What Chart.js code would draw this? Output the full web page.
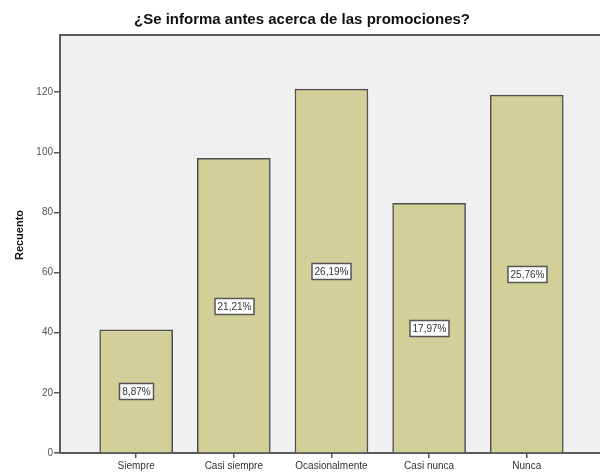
<!DOCTYPE html>
<html>
<head>
<meta charset="utf-8">
<script src="https://cdn.jsdelivr.net/npm/chart.js@4/dist/chart.umd.min.js"></script>
<style>
  html, body { margin: 0; padding: 0; background: #ffffff; }
  #wrap { width: 600px; height: 472px; position: relative; }
</style>
</head>
<body>
<div id="wrap"><canvas id="chart" width="600" height="472"></canvas></div>
<script>
// Survey answers and counts
const categories = ["Siempre", "Casi siempre", "Ocasionalmente", "Casi nunca", "Nunca"]
const counts = [41, 98, 121, 83, 119]
const yTicks = [0, 20, 40, 60, 80, 100, 120]
const titleText = "¿Se informa antes acerca de las promociones?"
const yTitle = "Recuento"

const total = counts.reduce((a, b) => a + b, 0)

function formatPercent(value) {
  return ((value / total) * 100).toFixed(2).replace(".", ",") + "%"
}

// plot background, frame, chart title and axis title
const framePlugin = {
  id: "frame",
  beforeDraw(chart) {
    const { ctx, chartArea } = chart
    ctx.save()
    ctx.fillStyle = "#f0f0f0"
    ctx.fillRect(chartArea.left, chartArea.top, chartArea.right - chartArea.left, chartArea.bottom - chartArea.top)
    ctx.restore()
  },
  afterDraw(chart) {
    const { ctx, chartArea } = chart
    ctx.save()
    ctx.strokeStyle = "#5a5a5a"
    ctx.lineWidth = 2
    ctx.beginPath()
    ctx.moveTo(chartArea.left, chartArea.bottom)
    ctx.lineTo(chartArea.left, chartArea.top)
    ctx.lineTo(chartArea.right + 5, chartArea.top)
    ctx.stroke()

    ctx.fillStyle = "#111111"
    ctx.font = "bold 15px 'Liberation Sans', Arial, sans-serif"
    ctx.textAlign = "center"
    ctx.textBaseline = "middle"
    ctx.fillText(titleText, 302, 20)

    ctx.translate(20, 235)
    ctx.rotate(-Math.PI / 2)
    ctx.font = "bold 11px 'Liberation Sans', Arial, sans-serif"
    ctx.fillText(yTitle, 0, 0)
    ctx.restore()
  },
}

// percentage boxes in the middle of each bar
const percentPlugin = {
  id: "percentBoxes",
  afterDatasetsDraw(chart) {
    const { ctx } = chart
    const yScale = chart.scales.y
    const meta = chart.getDatasetMeta(0)
    ctx.save()
    ctx.font = "10px 'Liberation Sans', Arial, sans-serif"
    ctx.textAlign = "center"
    ctx.textBaseline = "middle"
    meta.data.forEach((bar, i) => {
      const label = formatPercent(counts[i])
      const y = Math.round(yScale.getPixelForValue(counts[i] / 2)) + 0.5
      const x = Math.round(bar.x) + 0.5
      const w = Math.ceil(ctx.measureText(label).width) + 5
      const h = 16
      ctx.fillStyle = "#ffffff"
      ctx.fillRect(x - w / 2, y - h / 2, w, h)
      ctx.strokeStyle = "#555555"
      ctx.lineWidth = 1.5
      ctx.strokeRect(x - w / 2, y - h / 2, w, h)
      ctx.fillStyle = "#333333"
      ctx.fillText(label, x, y + 0.5)
    })
    ctx.restore()
  },
}

new Chart(document.getElementById("chart"), {
  type: "bar",
  data: {
    datasets: [
      {
        data: counts.map((v, i) => ({ x: i, y: v })),
        backgroundColor: "#d3cf98",
        borderColor: "#4f4f4f",
        borderWidth: 1.5,
        barThickness: 73,
      },
    ],
  },
  plugins: [framePlugin, percentPlugin],
  options: {
    responsive: false,
    animation: false,
    layout: { padding: { top: 35, left: 0, right: 0, bottom: 0 } },
    plugins: {
      legend: { display: false },
      tooltip: { enabled: false },
      title: { display: false },
    },
    scales: {
      x: {
        type: "linear",
        offset: false,
        min: -0.78,
        max: 4.75,
        afterBuildTicks: (scale) => {
          scale.ticks = categories.map((_, i) => ({ value: i }))
        },
        afterFit: (scale) => {
          scale.height = 19
        },
        grid: { offset: false, drawOnChartArea: false, drawTicks: true, tickLength: 5, color: "#555555", lineWidth: 1.5 },
        border: { display: true, color: "#5a5a5a", width: 2 },
        ticks: {
          padding: 2,
          color: "#333333",
          font: { family: "'Liberation Sans', Arial, sans-serif", size: 10 },
          maxRotation: 0,
          autoSkip: false,
          callback: (value) => categories[value],
        },
      },
      y: {
        min: 0,
        max: 139,
        afterBuildTicks: (scale) => {
          scale.ticks = yTicks.map((v) => ({ value: v }))
        },
        afterFit: (scale) => {
          scale.width = 60
        },
        grid: { drawOnChartArea: false, drawTicks: true, tickLength: 6, color: "#555555", lineWidth: 1.5 },
        border: { display: true, color: "#5a5a5a", width: 2 },
        ticks: {
          padding: 1,
          color: "#555555",
          font: { family: "'Liberation Sans', Arial, sans-serif", size: 10 },
        },
      },
    },
  },
})
</script>
</body>
</html>
